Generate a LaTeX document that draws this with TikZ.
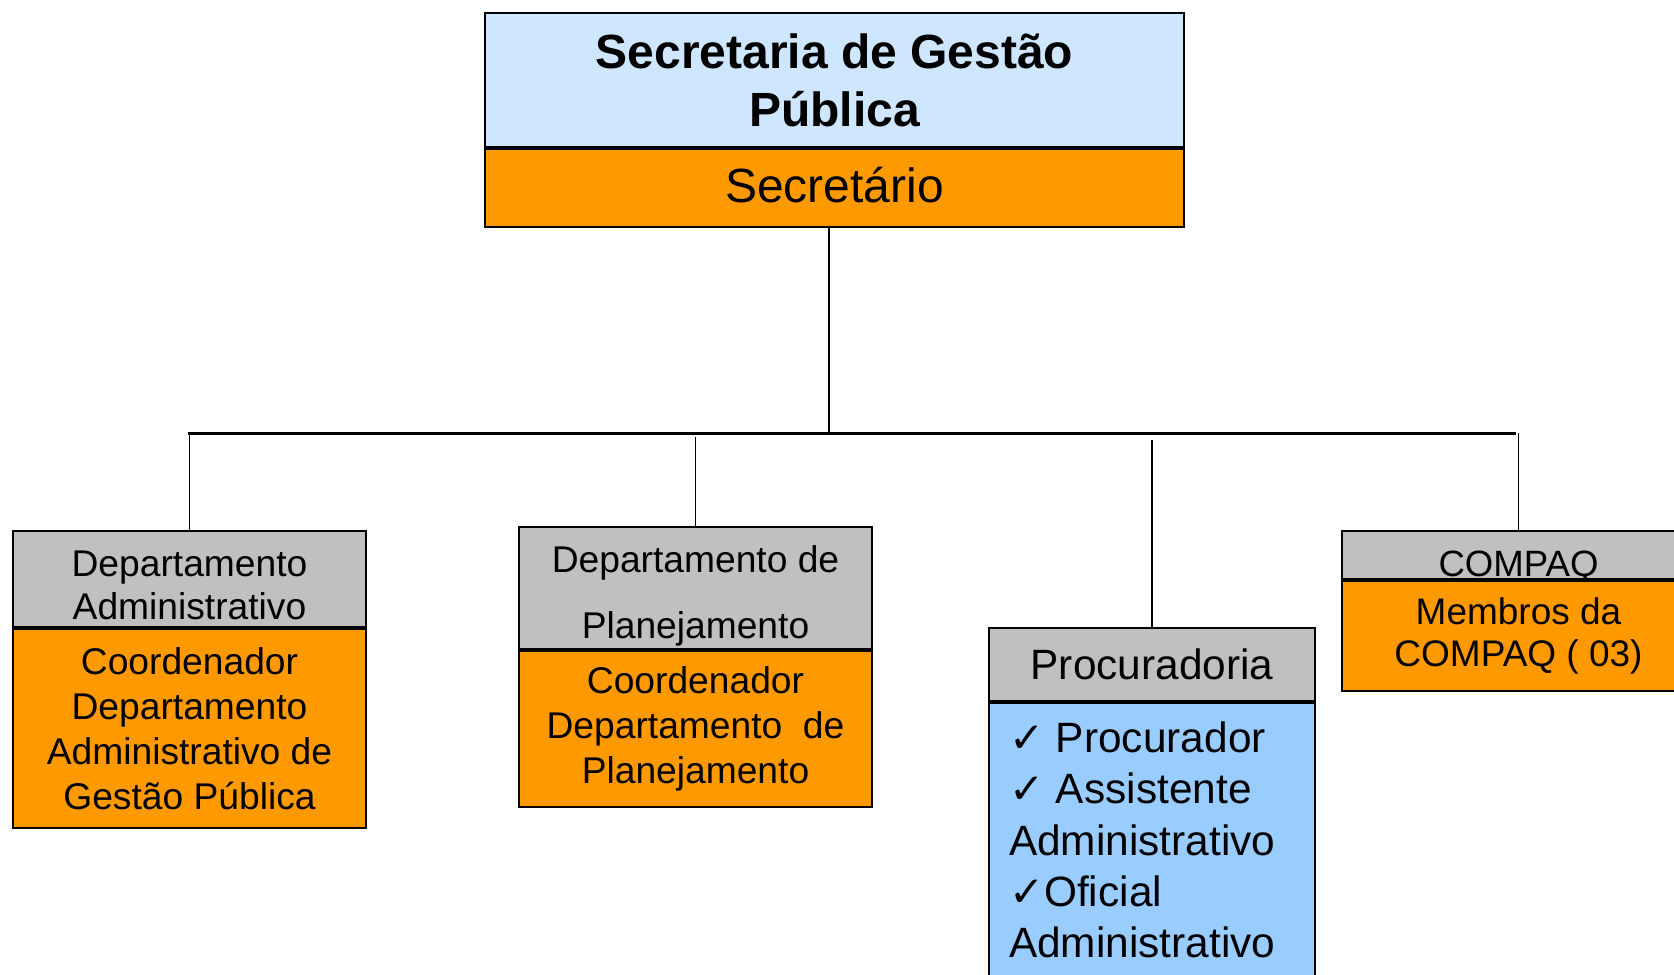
\documentclass[tikz,border=0pt]{standalone}
\usepackage{fontspec}
\setmainfont{Liberation Sans}
\newfontfamily\chkfont{DejaVu Sans}
\definecolor{azulclaro}{HTML}{CFE6FF}
\definecolor{azul}{HTML}{99CCFF}
\definecolor{laranja}{HTML}{FF9900}
\definecolor{cinza}{HTML}{C0C0C0}
\newcommand{\fs}[2]{\fontsize{#1}{#2}\selectfont}
\newcommand{\chk}{{\chkfont\fontsize{21}{25.6}\selectfont ✓}}
% desloca o texto sem mudar a caixa
\newcommand{\desloca}[2]{\raisebox{#1}[\height][\depth]{\parbox{170pt}{\centering #2}}}

\begin{document}
\begin{tikzpicture}[x=0.5pt,y=-0.5pt]
    \tikzset{
        part/.style={draw, line width=1pt, anchor=north west, inner sep=0pt, align=center},
        topo/.style={part, fill=azulclaro, font=\bfseries\fs{24}{29}},
        cargo/.style={part, fill=laranja, font=\fs{18.6}{22.4}},
        setor/.style={part, fill=cinza, font=\fs{18.6}{21.9}},
        ligacao/.style={line width=0.9pt},
    }
    \useasboundingbox (0,0) rectangle (1674,974);

    % secretaria
    \node[topo, minimum width=349.5pt, minimum height=67pt] (sec) at (484,12) {Secretaria de Gestão\\Pública};
    \node[cargo, minimum width=349.5pt, minimum height=39pt, font=\fs{24}{29}] (secr) at (sec.south west) {\desloca{1.6pt}{Secretário}};

    % departamentos
    \node[setor, minimum width=176.5pt, minimum height=48pt] (dadm) at (12,530) {\desloca{-3.2pt}{Departamento\\Administrativo}};
    \node[cargo, minimum width=176.5pt, minimum height=99.5pt] (dadmc) at (dadm.south west) {Coordenador\\Departamento\\Administrativo de\\Gestão Pública};

    \node[setor, minimum width=176.5pt, minimum height=61pt, font=\fs{18.6}{33}] (dplan) at (518,526) {\desloca{-4pt}{Departamento de\\Planejamento}};
    \node[cargo, minimum width=176.5pt, minimum height=78pt] (dplanc) at (dplan.south west) {Coordenador\\Departamento\ \ de\\Planejamento};

    % procuradoria
    \node[setor, minimum width=163pt, minimum height=36.5pt, font=\fs{21.2}{25.6}] (proc) at (988,627) {Procuradoria};
    \node[part, fill=azul, inner xsep=10pt, inner ysep=9.5pt, align=left, font=\fs{21.2}{25.6}] (procc) at (proc.south west)
        {\parbox[t][140pt][t]{143pt}{\raggedright \chk\ Procurador\\\chk\ Assistente\\Administrativo\\\chk Oficial\\Administrativo}};

    % compaq
    \node[setor, minimum width=176.5pt, minimum height=24pt, font=\fs{18.3}{21}] (compaq) at (1341,530) {\raisebox{-10.5pt}[0pt][0pt]{COMPAQ}};
    \node[cargo, minimum width=176.5pt, minimum height=55pt, font=\fs{18.5}{21.3}] (compaqc) at (compaq.south west) {Membros da\\COMPAQ ( 03)};

    % ligacoes
    \coordinate (hub) at (829,433);
    \coordinate (barE) at (188,433);
    \coordinate (barD) at (1516,433);
    \draw[line width=1.3pt] (secr.south -| hub) -- (hub);
    \draw[line width=1.5pt] (barE) -- (barD);
    \draw[ligacao] (dadm.north) -- (dadm.north |- barE);
    \draw[ligacao] (dplan.north) -- ++(0,-89);
    \draw[ligacao] (proc.north) -- ++(0,-187);
    \draw[ligacao] (compaq.north) -- (compaq.north |- barD);
\end{tikzpicture}
\end{document}
